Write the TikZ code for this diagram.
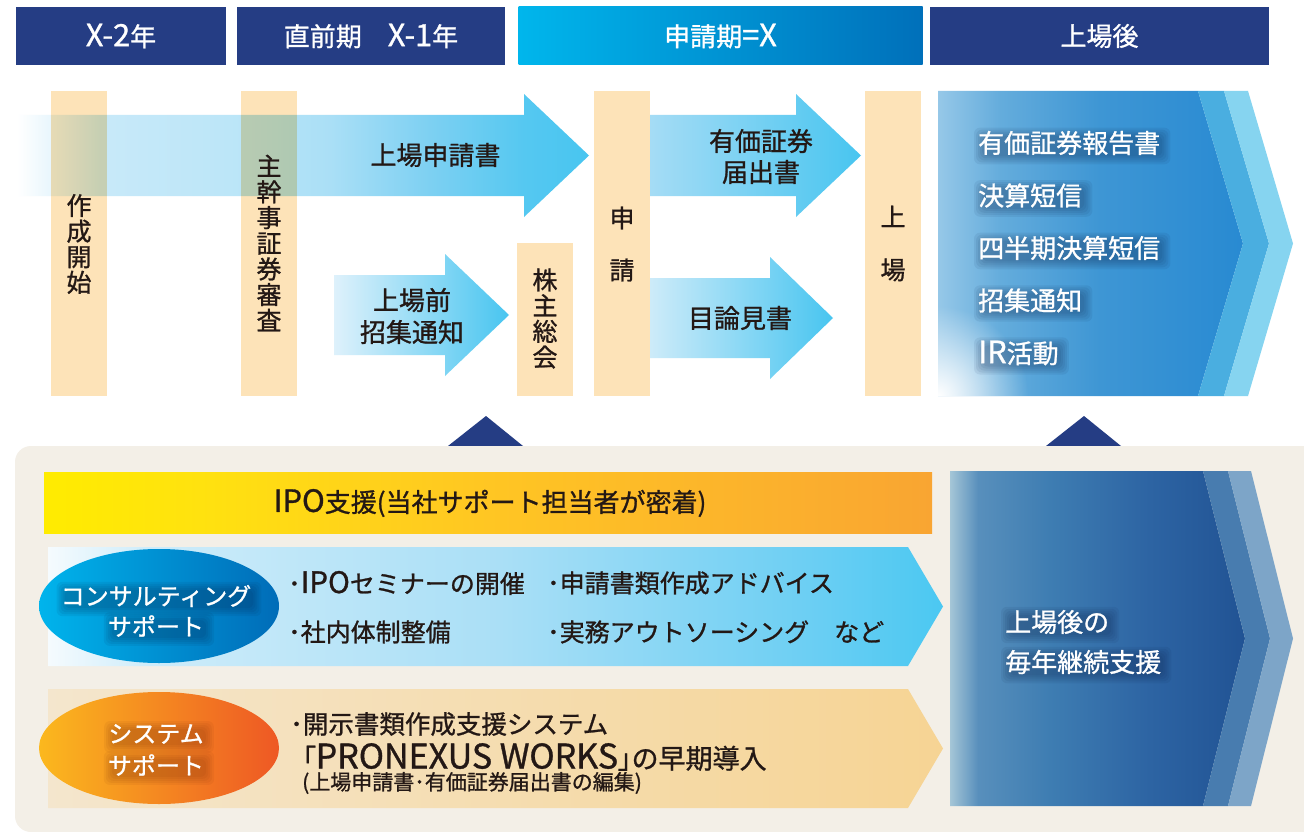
\documentclass[tikz,border=0pt]{standalone}
\usepackage{fontspec}
\setmainfont{Noto Sans CJK JP}[FakeBold=1]
\newfontfamily\jpp{Noto Sans CJK JP}[FakeBold=1,RawFeature=+palt]
\newfontfamily\latf{Noto Sans CJK JP}[FakeBold=1,Scale=1.18]
\usetikzlibrary{calc,fadings}
\definecolor{navy}{RGB}{37,61,132}
\definecolor{peach}{RGB}{253,227,184}
\definecolor{ink}{RGB}{35,24,21}
\definecolor{beige}{RGB}{243,239,231}
\definecolor{acyan}{RGB}{72,197,240}
\definecolor{bandtopA}{RGB}{74,174,224}
\definecolor{bandtopB}{RGB}{134,212,240}
\definecolor{bandbotA}{RGB}{72,124,175}
\definecolor{bandbotB}{RGB}{125,165,200}
\definecolor{shblue}{RGB}{10,30,70}
\definecolor{shorange}{RGB}{120,45,10}

\pgfdeclarelayer{glowl}
\pgfdeclarelayer{txtl}
\pgfsetlayers{main,glowl,txtl}

\tikzfading[name=cornerfade, inner color=transparent!0, outer color=transparent!100]

\pgfdeclarehorizontalshading{bigarrowsh}{100bp}{%
 rgb(0bp)=(1,1,1); rgb(25bp)=(1,1,1); rgb(32.26bp)=(.784,.914,.976);
 rgb(43.62bp)=(.737,.902,.973); rgb(52.36bp)=(.667,.875,.965);
 rgb(61.1bp)=(.49,.816,.949); rgb(69.32bp)=(.333,.784,.945);
 rgb(75bp)=(.282,.773,.941); rgb(100bp)=(.282,.773,.941)}
\pgfdeclarehorizontalshading{topchevsh}{100bp}{%
 rgb(0bp)=(.588,.784,.910); rgb(25bp)=(.588,.784,.910); rgb(35.2bp)=(.392,.675,.863);
 rgb(51.6bp)=(.243,.588,.831); rgb(75bp)=(.157,.541,.824); rgb(100bp)=(.157,.541,.824)}
\pgfdeclarehorizontalshading{botchevsh}{100bp}{%
 rgb(0bp)=(.647,.776,.843); rgb(25bp)=(.647,.776,.843); rgb(29.75bp)=(.345,.561,.737);
 rgb(41.95bp)=(.243,.490,.698); rgb(58.9bp)=(.176,.392,.639);
 rgb(75bp)=(.129,.325,.580); rgb(100bp)=(.129,.325,.580)}
\pgfdeclarehorizontalshading{yellowsh}{100bp}{%
 rgb(0bp)=(1,.925,0); rgb(25bp)=(1,.925,0); rgb(33.8bp)=(1,.886,.059);
 rgb(50.1bp)=(1,.776,.137); rgb(75bp)=(.976,.647,.196); rgb(100bp)=(.976,.647,.196)}
\pgfdeclarehorizontalshading{lbluesh}{100bp}{%
 rgb(0bp)=(.961,.984,.996); rgb(25bp)=(.961,.984,.996); rgb(30.7bp)=(.804,.925,.980);
 rgb(50.25bp)=(.667,.875,.965); rgb(67bp)=(.431,.812,.953);
 rgb(75bp)=(.294,.784,.949); rgb(100bp)=(.294,.784,.949)}

\tikzset{
  hdrbox/.style={inner sep=0pt, text=white, font=\fontsize{26}{28}\selectfont,
    minimum height=58},
  vtxt/.style={text=ink, align=center, inner sep=0pt, font=\fontsize{25}{25.6}\selectfont},
  lbl/.style={text=ink, align=center, inner sep=0pt, font=\fontsize{26}{32}\selectfont},
  btxt/.style={text=ink, anchor=west, inner sep=0pt, font=\fontsize{25}{30}\selectfont},
  wline/.style={text=white, anchor=west, inner sep=0pt, font=\fontsize{26}{30}\selectfont},
  oline/.style={text=white, inner sep=0pt, font=\fontsize{24}{28}\selectfont},
  glowbox/.style={fill=#1, fill opacity=0.07, rounded corners=6pt},
}

\begin{document}
\begin{tikzpicture}[x=1pt,y=-1pt]
\useasboundingbox (0,0) rectangle (1304,832);
\fill[white] (0,0) rectangle (1304,832);

% ---------- header bars ----------
\node[hdrbox, fill=navy, minimum width=210] (h1) at (121,36) {{\latf X-2}年};
\node[hdrbox, fill=navy, minimum width=268] (h2) at (371,36) {直前期　{\latf X-1}年};
\node[hdrbox, left color={rgb,255:red,0;green,182;blue,236},
      right color={rgb,255:red,0;green,112;blue,186}, minimum width=404] (h3) at (720.5,36) {申請期{\latf =X}};
\node[hdrbox, fill=navy, minimum width=339] (h4) at (1099.5,36) {上場後};

% ---------- peach bars ----------
\fill[peach] (51,91) rectangle (107,396);
\fill[peach] (241,91) rectangle (297,396);
\fill[peach] (517,243) rectangle (573,396);
\fill[peach] (594,91) rectangle (650,396);
\fill[peach] (865,91) rectangle (921,396);

% ---------- big arrow (multiply over bars) ----------
\begin{scope}[blend mode=multiply]
\shade[shading=bigarrowsh] (17,115) -- (524,115) -- (524,94) -- (589,155.5)
  -- (524,217) -- (524,196) -- (17,196) -- cycle;
\end{scope}

% ---------- other arrows ----------
\shade[left color={rgb,255:red,222;green,241;blue,251}, middle color={rgb,255:red,150;green,218;blue,245},
       right color=acyan]
  (334,275) -- (445,275) -- (445,254) -- (509,315) -- (445,376) -- (445,355) -- (334,355) -- cycle;
\shade[left color={rgb,255:red,165;green,220;blue,245}, right color=acyan]
  (650,115) -- (796,115) -- (796,94) -- (861,155.5) -- (796,217) -- (796,196) -- (650,196) -- cycle;
\shade[left color={rgb,255:red,205;green,235;blue,249}, middle color={rgb,255:red,140;green,215;blue,244},
       right color=acyan]
  (650,278) -- (770,278) -- (770,257) -- (833,318) -- (770,379) -- (770,358) -- (650,358) -- cycle;

% ---------- top chevron ----------
\shade[shading=topchevsh] (938,91) -- (1198,91) -- (1243,243.5) -- (1198,396) -- (938,396) -- cycle;
\begin{scope}
\clip (938,91) -- (1198,91) -- (1243,243.5) -- (1198,396) -- (938,396) -- cycle;
\fill[white, path fading=cornerfade] (938,396) circle (90);
\end{scope}
\fill[bandtopA] (1198,91) -- (1224,91) -- (1269,243.5) -- (1224,396) -- (1198,396) -- (1243,243.5) -- cycle;
\fill[bandtopB] (1224,91) -- (1248,91) -- (1293,243.5) -- (1248,396) -- (1224,396) -- (1269,243.5) -- cycle;

% ---------- triangles ----------
\fill[navy] (448,446) -- (486,416) -- (523,446) -- cycle;
\fill[navy] (1046,446) -- (1084,416) -- (1121,446) -- cycle;

% ---------- bottom panel ----------
\fill[beige, rounded corners=16] (15,446) rectangle (1330,832);

\shade[shading=botchevsh] (950,471) -- (1203,471) -- (1245,638.5) -- (1203,806) -- (950,806) -- cycle;
\fill[bandbotA] (1203,471) -- (1228,471) -- (1270,638.5) -- (1228,806) -- (1203,806) -- (1245,638.5) -- cycle;
\fill[bandbotB] (1228,471) -- (1251,471) -- (1293,638.5) -- (1251,806) -- (1228,806) -- (1270,638.5) -- cycle;

\shade[shading=yellowsh] (44,472) rectangle (932,533);
\shade[shading=lbluesh] (48,547) -- (908,547) -- (943,606.5) -- (908,666) -- (48,666) -- cycle;
\shade[left color={rgb,255:red,244;green,230;blue,205}, right color={rgb,255:red,246;green,212;blue,148}]
  (48,689) -- (908,689) -- (943,748.5) -- (908,808) -- (48,808) -- cycle;

\shade[left color={rgb,255:red,0;green,180;blue,236}, right color={rgb,255:red,0;green,108;blue,184}]
  (159,606) ellipse [x radius=120, y radius=57];
\shade[left color={rgb,255:red,251;green,184;blue,30}, middle color={rgb,255:red,245;green,142;blue,45},
       right color={rgb,255:red,238;green,88;blue,36}]
  (159,748) ellipse [x radius=120, y radius=56];

% ---------- texts ----------
\node[vtxt] (v1) at (79,244) {作\\成\\開\\始};
\node[vtxt, font=\fontsize{25}{25.7}\selectfont] (v2) at (269,243) {主\\幹\\事\\証\\券\\審\\査};
\node[vtxt, font=\fontsize{25}{25.7}\selectfont] (v3) at (545,318.5) {株\\主\\総\\会};
\node[vtxt, font=\fontsize{25}{52}\selectfont] (v4) at (622,244) {申\\請};
\node[vtxt, font=\fontsize{25}{53}\selectfont] (v5) at (893,243.5) {上\\場};

\node[lbl] (a1) at (435.5,155) {上場申請書};
\node[lbl] (a2) at (412,316) {上場前\\招集通知};
\node[lbl, font=\fontsize{26}{31}\selectfont] (a3) at (761,156.5) {有価証券\\届出書};
\node[lbl] (a4) at (740,318) {目論見書};

\node[lbl] (ipo) at (490,503) {{\latf IPO}支援(当社サポート担当者が密着)};

\node[btxt] (c1) at (288,583) {･{\latf IPO}セミナーの開催};
\node[btxt] (c2) at (547,583) {･申請書類作成アドバイス};
\node[btxt] (c3) at (288,632) {･社内体制整備};
\node[btxt] (c4) at (547,632) {･実務アウトソーシング　など};

\node[btxt, font=\fontsize{25.5}{30}\selectfont] (s1) at (290,724) {･開示書類作成支援システム};
\node[btxt, font=\fontsize{27}{30}\selectfont] (s2) at (302,757)
  {{\jpp 「}{\fontsize{34}{30}\selectfont PRONEXUS WORKS}{\jpp 」}の早期導入};
\node[btxt, font=\fontsize{21}{24}\selectfont] (s3) at (302,783) {(上場申請書･有価証券届出書の編集)};

% white texts with soft shadows
\begin{pgfonlayer}{txtl}
\node[wline] (l1) at (978,143) {有価証券報告書};
\node[wline] (l2) at (978,195.5) {決算短信};
\node[wline] (l3) at (978,248) {四半期決算短信};
\node[wline] (l4) at (978,300.5) {招集通知};
\node[wline] (l5) at (978,353) {{\latf IR}活動};
\node[oline] (cons1) at (156,596) {コンサルティング};
\node[oline] (cons2) at (156,626) {サポート};
\node[oline] (sys1) at (156,734) {システム};
\node[oline] (sys2) at (156,765) {サポート};
\node[wline] (n1) at (1005,622) {上場後の};
\node[wline] (n2) at (1005,662) {毎年継続支援};
\end{pgfonlayer}

\begin{pgfonlayer}{glowl}
\foreach \n/\c in {l1/shblue,l2/shblue,l3/shblue,l4/shblue,l5/shblue,n1/shblue,n2/shblue,
                   cons1/shblue,cons2/shblue,sys1/shorange,sys2/shorange}{
  \foreach \e in {7,5,3,1,-1}{
    \fill[glowbox=\c] ($(\n.south west)+(-\e+3,\e+2)$) rectangle ($(\n.north east)+(\e+3,-\e+4)$);
  }
}
\end{pgfonlayer}
\end{tikzpicture}
\end{document}
